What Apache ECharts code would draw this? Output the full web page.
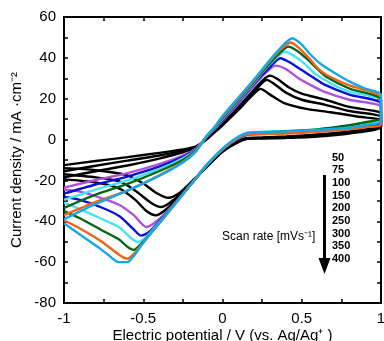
<!DOCTYPE html>
<html><head><meta charset="utf-8">
<script src="https://cdn.jsdelivr.net/npm/echarts@6/dist/echarts.min.js"></script>
<style>html,body{margin:0;padding:0;background:#fff}#c{width:384px;height:341px}</style>
</head><body><div id="c"></div>
<script>
// Scan rates (mV/s) shown in the legend list
const scanRates = ['50','75','100','150','200','250','300','350','400'];

// Cyclic voltammograms: [potential V, current density mA/cm2], forward then reverse scan
const cv50 = [[-1,-12.5],[-0.8,-10.5],[-0.6,-8.6],[-0.4,-6.5],[-0.25,-4.8],[-0.17,-3.5],[-0.1,0],[-0.05,3.5],[0,7],[0.1,14.5],[0.18,21],[0.24,24.8],[0.3,22],[0.385,18],[0.53,15],[0.68,13.4],[0.85,11.3],[1,9.3],
  [1,6],[0.8,3],[0.6,1.5],[0.4,0.8],[0.25,0.5],[0.15,0.3],[0.08,-2],[0,-6],[-0.1,-13.5],[-0.2,-21],[-0.27,-26],[-0.34,-28.5],[-0.42,-26],[-0.5,-21.5],[-0.6,-17.5],[-0.8,-15],[-1,-14]];
const cv75 = [[-1,-15.5],[-0.8,-12.8],[-0.6,-10.3],[-0.4,-7.8],[-0.25,-5.5],[-0.17,-3.8],[-0.1,0.5],[-0.05,4],[0,7.5],[0.1,15.5],[0.2,23.5],[0.28,29.2],[0.33,27],[0.4,23],[0.5,19.5],[0.65,17],[0.8,14],[1,11],
  [1,6.5],[0.8,3.5],[0.6,2],[0.4,1.2],[0.25,0.8],[0.15,0.5],[0.08,-1.8],[0,-5.8],[-0.1,-13.3],[-0.2,-21.5],[-0.3,-29],[-0.385,-33],[-0.45,-31],[-0.55,-25],[-0.65,-20.5],[-0.8,-18.5],[-1,-17]];
const cv100 = [[-1,-18.5],[-0.8,-15.5],[-0.6,-12.7],[-0.4,-9.3],[-0.25,-6.2],[-0.17,-4],[-0.1,0.7],[-0.05,4.3],[0,8],[0.1,16],[0.2,24.5],[0.26,29.5],[0.3,31.3],[0.35,29.5],[0.42,25.5],[0.5,22.5],[0.65,19.5],[0.8,16],[1,12.6],
  [1,7],[0.8,4],[0.6,2.5],[0.4,1.5],[0.25,1],[0.15,0.8],[0.08,-1.6],[0,-5.6],[-0.1,-13],[-0.2,-21.8],[-0.3,-30],[-0.36,-34.5],[-0.42,-37.1],[-0.48,-35],[-0.55,-29.5],[-0.65,-24],[-0.8,-21],[-1,-19.5]];
const cv150 = [[-1,-23.5],[-0.8,-19.8],[-0.6,-16.4],[-0.4,-12],[-0.25,-7.8],[-0.17,-4.5],[-0.1,1],[-0.05,5],[0,9],[0.1,17.5],[0.2,26.5],[0.27,32.5],[0.335,36.2],[0.4,34.5],[0.48,30],[0.56,26.5],[0.64,23.5],[0.8,19.5],[1,16],
  [1,8],[0.9,6.5],[0.8,5.5],[0.6,4],[0.4,3.2],[0.25,2.7],[0.15,2.2],[0.08,-0.5],[0,-5],[-0.1,-12.8],[-0.2,-22],[-0.3,-31],[-0.4,-39],[-0.48,-42.8],[-0.56,-37],[-0.65,-32],[-0.77,-28.5],[-0.9,-25.5],[-1,-24.5]];
const cv200 = [[-1,-26.5],[-0.8,-22],[-0.6,-18.1],[-0.4,-13.3],[-0.25,-8.5],[-0.17,-4.8],[-0.1,1.2],[-0.05,5.3],[0,9.5],[0.1,18.5],[0.2,27.5],[0.3,35.5],[0.365,39.8],[0.42,38],[0.5,34],[0.58,30],[0.64,27],[0.8,22],[1,17.5],
  [1,8.5],[0.9,7],[0.8,5.8],[0.6,4.3],[0.4,3.5],[0.25,3],[0.15,2.5],[0.08,-0.3],[0,-4.8],[-0.1,-12.6],[-0.2,-22],[-0.3,-31.3],[-0.4,-40],[-0.46,-45],[-0.515,-47],[-0.56,-44],[-0.65,-37.5],[-0.77,-33],[-0.9,-29.5],[-1,-28]];
const cv250 = [[-1,-29.5],[-0.8,-24.5],[-0.6,-20],[-0.4,-14.5],[-0.25,-9.2],[-0.17,-5],[-0.1,1.5],[-0.05,5.6],[0,10],[0.1,19],[0.2,28],[0.3,37],[0.395,43],[0.45,41],[0.52,37],[0.58,32.5],[0.64,29.5],[0.72,26],[0.8,23.5],[1,19],
  [1,10],[0.9,8],[0.8,6.5],[0.6,5],[0.4,4.2],[0.25,3.8],[0.15,3],[0.08,0],[0,-4.6],[-0.1,-12.5],[-0.2,-22],[-0.3,-31.5],[-0.4,-40.5],[-0.48,-47.5],[-0.535,-50.2],[-0.58,-48],[-0.65,-43],[-0.77,-38.5],[-0.9,-34],[-1,-31]];
const cv300 = [[-1,-33.5],[-0.8,-27],[-0.6,-21.7],[-0.4,-15.5],[-0.25,-10],[-0.17,-5.3],[-0.1,1.6],[-0.05,5.8],[0,10.5],[0.1,19.5],[0.2,28.5],[0.3,37.5],[0.37,43],[0.415,45.5],[0.47,43.5],[0.54,39],[0.6,34.5],[0.66,30.5],[0.8,25],[1,19.5],
  [1,10.5],[0.9,8.5],[0.8,7],[0.6,5],[0.4,4],[0.25,3.5],[0.15,2.8],[0.08,0.2],[0,-4.5],[-0.1,-12.5],[-0.2,-22],[-0.3,-31.5],[-0.4,-41],[-0.5,-50],[-0.56,-54],[-0.6,-52.5],[-0.65,-49],[-0.77,-44],[-0.9,-38.5],[-1,-35]];
const cv350 = [[-1,-37],[-0.8,-30.5],[-0.6,-25],[-0.4,-17.5],[-0.25,-11],[-0.17,-5.8],[-0.1,1.6],[-0.05,6],[0,11],[0.1,20],[0.2,29],[0.3,38.5],[0.38,45],[0.43,47.5],[0.48,45],[0.55,39.5],[0.6,35],[0.66,31.5],[0.8,26.5],[1,20.5],
  [1,7.5],[0.9,6],[0.8,5],[0.6,3.8],[0.4,3],[0.25,2.7],[0.15,2.4],[0.08,-0.2],[0,-4.8],[-0.1,-12.6],[-0.2,-22],[-0.3,-31.5],[-0.4,-41],[-0.5,-50.5],[-0.56,-56],[-0.6,-58.3],[-0.65,-56.5],[-0.77,-49.5],[-0.9,-43.5],[-1,-39.5]];
const cv400 = [[-1,-39],[-0.8,-31.5],[-0.6,-25],[-0.4,-17.8],[-0.25,-11.2],[-0.17,-6],[-0.1,1.7],[-0.05,6.2],[0,11.5],[0.1,20.5],[0.2,29.5],[0.3,39],[0.38,46],[0.44,49.6],[0.5,46.5],[0.55,42],[0.62,37],[0.7,33],[0.8,28.5],[0.9,25],[1,22],
  [1,9],[0.9,7],[0.8,5.8],[0.6,4.8],[0.4,4],[0.25,3.6],[0.15,3.1],[0.08,0.4],[0,-4.5],[-0.1,-12.5],[-0.2,-22],[-0.3,-31.5],[-0.4,-41],[-0.5,-50.5],[-0.56,-57],[-0.6,-60],[-0.656,-60],[-0.72,-56.5],[-0.77,-53.5],[-0.877,-47.7],[-1,-41]];

const curves = [cv50, cv75, cv100, cv150, cv200, cv250, cv300, cv350, cv400];
const colors = ['#000000','#000000','#000000','#b250d8','#0a10d8','#48e2f4','#046418','#f06416','#14a8e6'];

const FONT = '"Liberation Sans", Arial, sans-serif';
const chart = echarts.init(document.getElementById('c'), null, {renderer:'canvas'});

function axisCommon(show, margin){
  return {
    axisLine:{show:true,onZero:false,lineStyle:{color:'#000',width:2}},
    axisTick:{show:true,inside:true,length:4,lineStyle:{color:'#000',width:1.5}},
    minorTick:{show:true,splitNumber:2,length:4,lineStyle:{color:'#000',width:1.5}},
    splitLine:{show:false}, minorSplitLine:{show:false},
    axisLabel:{show:show,color:'#000',fontFamily:FONT,fontSize:15,margin:margin,hideOverlap:false}
  };
}

const series = curves.map((d,i)=>({
  type:'line', data:d, xAxisIndex:0, yAxisIndex:0,
  showSymbol:false, symbol:'none', smooth:0.25,
  lineStyle:{color:colors[i], width:2.4}, itemStyle:{color:colors[i]},
  z: 2+i, silent:true
}));

// legend list graphics
const graphics = scanRates.map((t,i)=>({
  type:'text', left:332, top:152+i*12.7,
  style:{text:t, fill:'#000', font:'bold 11px '+FONT}
}));
graphics.push({type:'text', left:222, top:231, style:{text:'Scan rate [mVs\u207B\u00B9]', fill:'#000', font:'12px '+FONT}});
graphics.push({type:'line', shape:{x1:324.5,y1:175,x2:324.5,y2:262}, style:{stroke:'#000', lineWidth:3}});
graphics.push({type:'polygon', shape:{points:[[318.5,258],[330.5,258],[324.5,274]]}, style:{fill:'#000'}});

chart.setOption({
  animation:false,
  backgroundColor:'#fff',
  grid:{left:64,right:3,top:17,bottom:38,containLabel:false,outerBoundsMode:'none'},
  xAxis:[
    Object.assign({type:'value',position:'bottom',min:-1,max:1,interval:0.5,
      name:'Electric potential / V (vs. Ag/Ag\u207A )',nameLocation:'middle',nameGap:25,nameMoveOverlap:false,
      nameTextStyle:{color:'#000',fontFamily:FONT,fontSize:15}}, axisCommon(true,8)),
    Object.assign({type:'value',position:'top',min:-1,max:1,interval:0.5}, axisCommon(false,8))
  ],
  yAxis:[
    Object.assign({type:'value',position:'left',min:-80,max:60,interval:20,
      name:'Current density / mA \u00B7cm\u207B\u00B2',nameLocation:'middle',nameGap:40,nameRotate:90,nameMoveOverlap:false,
      nameTextStyle:{color:'#000',fontFamily:FONT,fontSize:15}}, axisCommon(true,8)),
    Object.assign({type:'value',position:'right',min:-80,max:60,interval:20}, axisCommon(false,8))
  ],
  series: series,
  graphic: graphics
});
</script></body></html>
